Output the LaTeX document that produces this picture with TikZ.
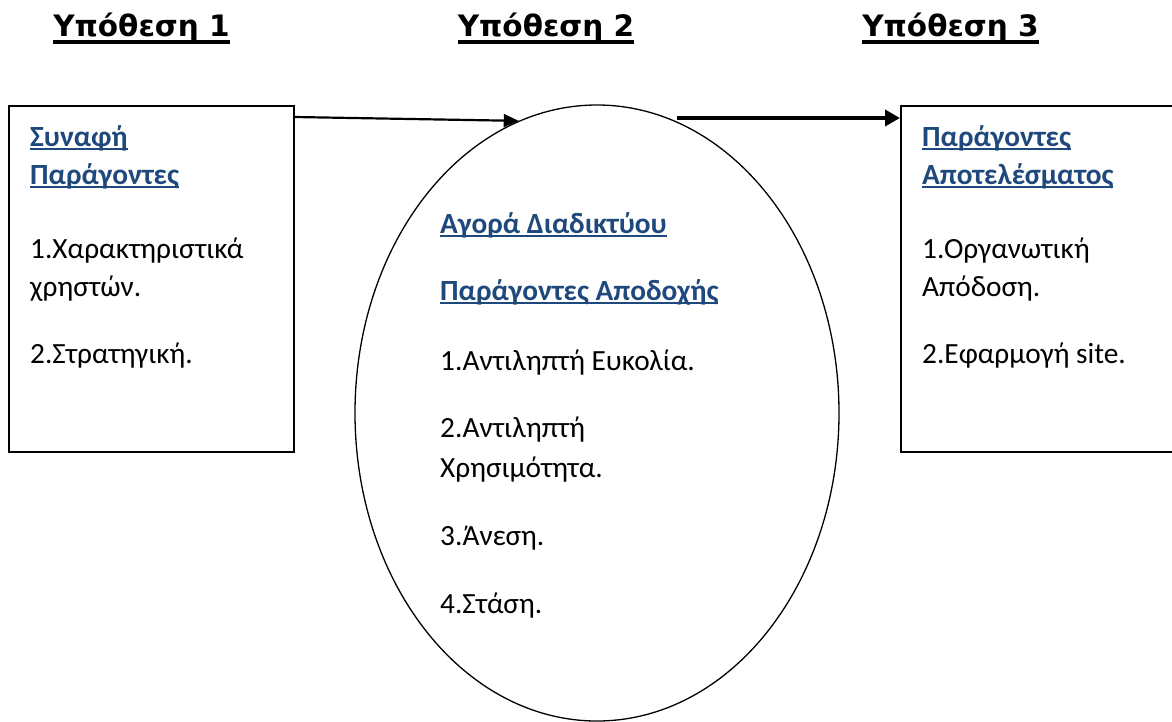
\documentclass[tikz,border=0pt]{standalone}
\usepackage{fontspec}
\setmainfont{Carlito}
\newfontfamily\titlefont{DejaVu Sans}
\usetikzlibrary{shapes.geometric,arrows.meta}
\definecolor{headblue}{RGB}{31,73,125}
\newcommand{\ulbody}[1]{\setbox0=\hbox{#1}\rlap{\rule[-0.15em]{\wd0}{0.095em}}\box0}
\newcommand{\ultitle}[1]{\setbox0=\hbox{#1}\rlap{\rule[-0.27em]{\wd0}{0.12em}}\box0}
\tikzset{
  boxnode/.style={draw=black, line width=2pt, minimum width=285pt, minimum height=346pt, inner sep=0pt, anchor=north west},
  ellnode/.style={draw=black, line width=1.3pt, ellipse, inner sep=0pt, minimum width=484pt, minimum height=616pt},
  bodytxt/.style={anchor=base west, inner sep=0pt, font=\fontsize{29.3}{35}\selectfont},
  headtxt/.style={bodytxt, text=headblue, font=\fontsize{29.3}{35}\selectfont\bfseries},
  titletxt/.style={anchor=base, inner sep=0pt, font=\titlefont\fontsize{29.5}{34}\selectfont\bfseries},
  arrA/.style={line width=2.2pt, -{Triangle[length=15pt,width=13pt]}},
  arrB/.style={line width=4pt, -{Triangle[length=15pt,width=16pt]}}
}
\begin{document}
\begin{tikzpicture}[x=1pt,y=-1pt]
\path[use as bounding box, clip] (0,0) rectangle (1172,721);
\fill[white] (0,0) rectangle (1172,721);
% titles
\node[titletxt] (t1) at (141.5,36) {\ultitle{Υπόθεση 1}};
\node[titletxt] (t2) at (546,36) {\ultitle{Υπόθεση 2}};
\node[titletxt] (t3) at (950.5,36) {\ultitle{Υπόθεση 3}};
% shapes
\node[boxnode] (b1) at (8,105) {};
\node[ellnode] (e) at (597,413) {};
\node[boxnode, minimum width=320pt] (b3) at (900,105) {};
% connectors
\coordinate (a1s) at ([yshift=-12pt]b1.north east);
\draw[arrA] (a1s) -- (e.105);
\coordinate (a2s) at (677,118);
\coordinate (a2e) at ([yshift=-13pt]b3.north west);
\draw[arrB] (a2s) -- (a2e);
% left box text
\node[headtxt] (l1) at (30,146) {\ulbody{Συναφή}};
\node[headtxt] (l2) at (30,184) {\ulbody{Παράγοντες}};
\node[bodytxt] (l3) at (30,258) {1.Χαρακτηριστικά};
\node[bodytxt] (l4) at (30,296) {χρηστών.};
\node[bodytxt] (l5) at (30,363) {2.Στρατηγική.};
% middle text
\node[headtxt] (m1) at (440,233) {\ulbody{Αγορά Διαδικτύου}};
\node[headtxt] (m2) at (440,300) {\ulbody{Παράγοντες Αποδοχής}};
\node[bodytxt] (m3) at (440,370) {1.Αντιληπτή Ευκολία.};
\node[bodytxt] (m4) at (440,437) {2.Αντιληπτή};
\node[bodytxt] (m5) at (440,477) {Χρησιμότητα.};
\node[bodytxt] (m6) at (440,545) {3.Άνεση.};
\node[bodytxt] (m7) at (440,613) {4.Στάση.};
% right box text
\node[headtxt] (r1) at (922,146) {\ulbody{Παράγοντες}};
\node[headtxt] (r2) at (922,184) {\ulbody{Αποτελέσματος}};
\node[bodytxt] (r3) at (922,258) {1.Οργανωτική};
\node[bodytxt] (r4) at (922,296) {Απόδοση.};
\node[bodytxt] (r5) at (922,363) {2.Εφαρμογή site.};
\end{tikzpicture}
\end{document}
